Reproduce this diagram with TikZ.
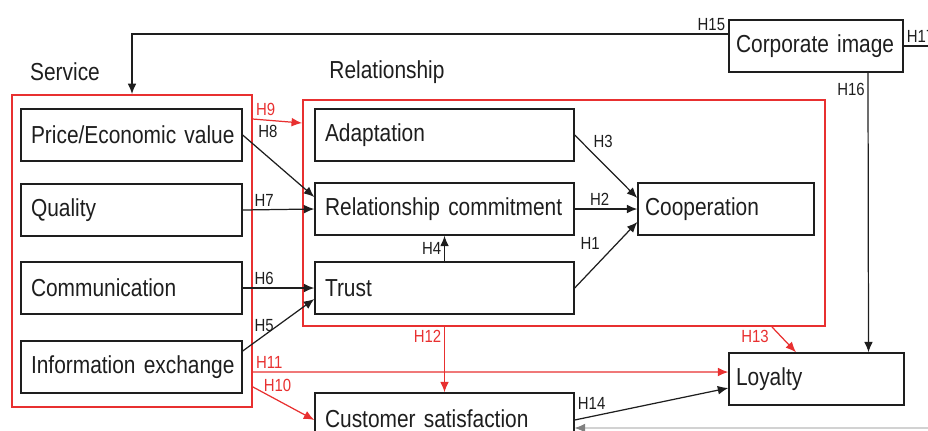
\documentclass[tikz,border=0pt]{standalone}
\usepackage{fontspec}
\setmainfont[FakeStretch=0.85]{Liberation Sans}
\usepackage{xcolor}
\usetikzlibrary{arrows.meta,positioning,calc}
\definecolor{hred}{RGB}{232,48,48}
\definecolor{ink}{RGB}{30,30,30}

\begin{document}
\begin{tikzpicture}[x=0.02cm, y=-0.02cm, color=ink,
    box/.style={draw, line width=0.8pt, minimum height=1.04cm, inner xsep=0.2cm, align=left, font=\fontsize{14}{16}\selectfont,
        execute at begin node=\hbox\bgroup, execute at end node=\egroup},
    svcbox/.style={box, text width=4.02cm},
    relbox/.style={box, text width=4.78cm},
    outbox/.style={box, inner xsep=0.14cm},
    grp/.style={draw=hred, line width=1.1pt, inner sep=0pt},
    title/.style={font=\fontsize{14}{16}\selectfont},
    hyp/.style={font=\fontsize{10}{12}\selectfont, inner sep=1.5pt},
    redhyp/.style={hyp, text=hred},
    arr/.style={-{Latex[length=6pt,width=5pt]}, line width=0.7pt},
    redarr/.style={arr, draw=hred}]
    \useasboundingbox (0,0) rectangle (928,430);
    \clip (0,0) rectangle (928,430);
    % groups
    \node[grp, minimum width=4.8cm, minimum height=6.24cm] (svc) at (132,251) {};
    \node[grp, minimum width=10.44cm, minimum height=4.52cm] (rel) at (564,213) {};
    \node[title] (svclbl) at (65,72) {Service};
    \node[title] (rellbl) at (387,72) {Relationship};
    % service
    \node[svcbox] (price) at (131.5,135) {Price/Economic value};
    \node[svcbox] (quality) at (131.5,210) {Quality};
    \node[svcbox] (comm) at (131.5,288) {Communication};
    \node[svcbox] (info) at (131.5,367) {Information exchange};
    % relationship
    \node[relbox] (adapt) at (444.5,135) {Adaptation};
    \node[relbox] (commit) at (444.5,209) {Relationship commitment};
    \node[relbox] (trust) at (444.5,288) {Trust};
    \node[outbox, text width=3.24cm] (coop) at (726,209) {Cooperation};
    % outcomes
    \node[outbox, text width=3.2cm] (corp) at (816,46) {Corporate image};
    \node[outbox, text width=3.22cm] (loyal) at (816.5,379) {Loyalty};
    \node[relbox] (csat) at (444.5,419) {Customer satisfaction};
    \coordinate (offr) at (960,46);
    \coordinate (offb) at (940,428);

    \draw[arr] ([yshift=0.24cm]corp.west) -| (svc.north) node[hyp, pos=0, anchor=south east] {H15};
    \draw[line width=0.7pt] (corp.east) -- (offr) node[hyp, pos=0, anchor=south west] {H17};
    \draw[arr] ([xshift=1.04cm]corp.south) -- ([xshift=1.04cm]loyal.north) node[hyp, pos=0, anchor=north east, yshift=-4pt] {H16};

    \draw[redarr] ([yshift=2.64cm]svc.east) -- ([yshift=1.8cm]rel.west) node[redhyp, pos=0, anchor=south west] {H9};
    \draw[arr] (price.east) -- ([yshift=0.24cm]commit.west) node[hyp, pos=0.1, anchor=south west, xshift=3pt] {H8};
    \draw[arr] (quality.east) -- (commit.west) node[hyp, pos=0.3, above] {H7};
    \draw[arr] (comm.east) -- (trust.west) node[hyp, pos=0.3, above] {H6};
    \draw[arr] ([yshift=0.32cm]info.east) -- ([yshift=-0.22cm]trust.west) node[hyp, pos=0.3, above] {H5};
    \draw[redarr] ([yshift=-2.42cm]svc.east) -- ([yshift=0.14cm]loyal.west) node[redhyp, pos=0, anchor=south west] {H11};
    \draw[redarr] ([yshift=-2.72cm]svc.east) -- ([yshift=-0.02cm]csat.west) node[redhyp, pos=0.4, above, yshift=3pt] {H10};
    \draw[redarr] (rel.south -| csat.north) -- (csat.north) node[redhyp, pos=0, anchor=north east] {H12};
    \draw[redarr] ([xshift=4.16cm]rel.south) -- ([xshift=-0.41cm]loyal.north) node[redhyp, pos=0, anchor=north east] {H13};

    \draw[arr] (adapt.east) -- ([yshift=0.22cm]coop.west) node[hyp, pos=0.25, above right] {H3};
    \draw[arr] (commit.east) -- (coop.west) node[hyp, pos=0.4, above] {H2};
    \draw[arr] (trust.east) -- ([yshift=-0.26cm]coop.west) node[hyp, pos=0.45, above left, yshift=3pt] {H1};
    \draw[arr] (trust.north) -- (commit.south) node[hyp, midway, left] {H4};

    \draw[arr] ([yshift=-0.02cm]csat.east) -- ([yshift=-0.18cm]loyal.west) node[hyp, pos=0, anchor=south west, yshift=4pt] {H14};
    \draw[arr, gray, line width=0.4pt] (offb) -- ([yshift=-0.18cm]csat.east);
\end{tikzpicture}
\end{document}
